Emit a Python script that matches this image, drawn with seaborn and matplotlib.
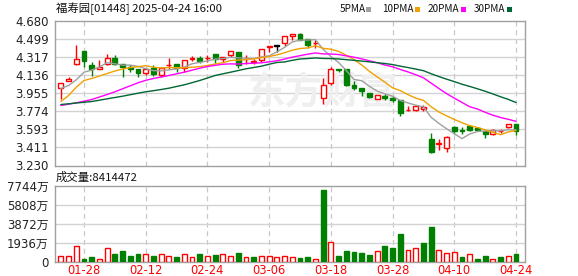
import numpy as np
import pandas as pd
import matplotlib
matplotlib.use("Agg")
import matplotlib.pyplot as plt
import seaborn as sns
from matplotlib.patches import Rectangle

# ---------------- data ----------------
dates = ["01-23", "01-24", "01-27", "01-28", "02-03", "02-04", "02-05", "02-06", "02-07", "02-10",
         "02-11", "02-12", "02-13", "02-14", "02-17", "02-18", "02-19", "02-20", "02-21", "02-24",
         "02-25", "02-26", "02-27", "02-28", "03-03", "03-04", "03-05", "03-06", "03-07", "03-10",
         "03-11", "03-12", "03-13", "03-14", "03-17", "03-18", "03-19", "03-20", "03-21", "03-24",
         "03-25", "03-26", "03-27", "03-28", "03-31", "04-01", "04-02", "04-03", "04-07", "04-08",
         "04-09", "04-10", "04-11", "04-14", "04-15", "04-16", "04-17", "04-22", "04-23", "04-24"]

opens = [4.003, 4.070, 4.250, 4.370, 4.237, 4.197, 4.243, 4.307, 4.247, 4.217,
         4.190, 4.157, 4.203, 4.137, 4.233, 4.247, 4.203, 4.300, 4.303, 4.303,
         4.347, 4.297, 4.337, 4.370, 4.293, 4.263, 4.280, 4.413, 4.430, 4.453,
         4.523, 4.547, 4.497, 4.450, 3.903, 4.057, 4.190, 4.190, 4.040, 4.003,
         3.957, 3.897, 3.923, 3.903, 3.890, 3.787, 3.790, 3.797, 3.497, 3.450,
         3.405, 3.613, 3.583, 3.620, 3.607, 3.577, 3.550, 3.577, 3.617, 3.643]
highs = [4.060, 4.120, 4.433, 4.370, 4.267, 4.290, 4.350, 4.340, 4.250, 4.230,
         4.195, 4.210, 4.230, 4.213, 4.310, 4.250, 4.290, 4.330, 4.320, 4.333,
         4.350, 4.317, 4.370, 4.370, 4.337, 4.297, 4.397, 4.430, 4.430, 4.523,
         4.547, 4.557, 4.497, 4.480, 4.103, 4.213, 4.200, 4.190, 4.070, 4.003,
         3.960, 3.940, 3.947, 3.923, 3.890, 3.830, 3.840, 3.837, 3.560, 3.500,
         3.530, 3.630, 3.613, 3.640, 3.615, 3.580, 3.600, 3.600, 3.650, 3.643]
lows = [3.900, 4.070, 4.237, 4.213, 4.127, 4.197, 4.237, 4.230, 4.113, 4.163,
        4.113, 4.140, 4.130, 4.113, 4.197, 4.170, 4.170, 4.277, 4.257, 4.270,
        4.257, 4.263, 4.313, 4.203, 4.247, 4.247, 4.263, 4.363, 4.370, 4.430,
        4.480, 4.487, 4.403, 4.410, 3.847, 4.037, 4.167, 4.030, 3.990, 3.930,
        3.903, 3.897, 3.890, 3.863, 3.730, 3.777, 3.777, 3.777, 3.353, 3.390,
        3.370, 3.547, 3.547, 3.580, 3.577, 3.505, 3.537, 3.560, 3.610, 3.540]
closes = [4.057, 4.097, 4.297, 4.277, 4.190, 4.217, 4.307, 4.243, 4.213, 4.190,
          4.153, 4.193, 4.143, 4.203, 4.237, 4.203, 4.290, 4.303, 4.273, 4.307,
          4.297, 4.317, 4.370, 4.237, 4.297, 4.277, 4.397, 4.430, 4.430, 4.523,
          4.547, 4.487, 4.437, 4.453, 4.037, 4.190, 4.183, 4.040, 4.003, 3.973,
          3.913, 3.940, 3.903, 3.887, 3.757, 3.790, 3.830, 3.820, 3.363, 3.455,
          3.520, 3.580, 3.577, 3.590, 3.583, 3.545, 3.588, 3.580, 3.643, 3.580]
# volume in 万 shares
volumes = [650, 580, 1600, 270, 460, 270, 1380, 800, 1150, 580,
           800, 770, 580, 770, 580, 460, 770, 460, 800, 580,
           690, 770, 580, 920, 460, 460, 650, 580, 460, 650,
           460, 390, 460, 270, 7330, 2030, 580, 1150, 1030, 920,
           690, 1110, 1600, 1380, 2860, 1230, 1450, 1950, 3550, 1230,
           890, 1000, 460, 770, 350, 580, 350, 460, 650, 841]

# moving-average values before enough in-window history exists
ma5_head = [4.000, 4.030, 4.087, 4.163]
ma10_head = [3.870, 3.930, 4.013, 4.080, 4.100, 4.125, 4.150, 4.175, 4.195]
ma20_head = [3.830, 3.843, 3.857, 3.873, 3.890, 3.915, 3.940, 3.967, 3.997, 4.027,
             4.057, 4.082, 4.100, 4.115, 4.130, 4.147, 4.163, 4.183, 4.203]
ma30_head = [3.840, 3.847, 3.855, 3.862, 3.870, 3.883, 3.897, 3.910, 3.923, 3.938,
             3.953, 3.967, 3.978, 3.990, 4.003, 4.020, 4.037, 4.058, 4.080, 4.105,
             4.130, 4.147, 4.163, 4.180, 4.197, 4.210, 4.223, 4.243, 4.260]

price_ticks = [4.680, 4.499, 4.317, 4.136, 3.955, 3.774, 3.593, 3.411, 3.230]
vol_ticks = [0, 1936, 3872, 5808, 7744]
date_ticks = ["01-28", "02-12", "02-24", "03-06", "03-18", "03-28", "04-10", "04-24"]
title_text = "福寿园[01448] 2025-04-24 16:00"
vol_title = "成交量:8414472"
ma_names = ["5PMA", "10PMA", "20PMA", "30PMA"]

# ---------------- styling ----------------
RED = "#ff0000"
GREEN = "#008000"
MA_COLORS = ["#a0a0a0", "#f0a000", "#ff00ff", "#006633"]
GRID = "#d3d3d3"
BORDER = "#a0a0a0"

sns.set_style("white")
plt.rcParams["font.family"] = ["DejaVu Sans", "Noto Sans CJK SC"]

W, H = 578, 276
fig = plt.figure(figsize=(W / 100, H / 100), dpi=100)


def fx(px):
    return px / W


def fy(py):
    return 1 - py / H


ax1 = fig.add_axes([fx(55), fy(165.5), fx(470), 145 / H])
ax2 = fig.add_axes([fx(55), fy(262), fx(470), 76 / H])

n = len(closes)
x = np.arange(n)
o = np.array(opens)
h = np.array(highs)
l = np.array(lows)
c = np.array(closes)

# moving averages
s = pd.Series(closes)
mas = []
for win, head in zip([5, 10, 20, 30], [ma5_head, ma10_head, ma20_head, ma30_head]):
    m = s.rolling(win).mean().to_numpy()
    m[: len(head)] = head
    mas.append(m)

tick_pos = [dates.index(d) for d in date_ticks]
xlim = (-0.76, 60.17)

# ---------------- price panel ----------------
for ax in (ax1, ax2):
    ax.set_xlim(*xlim)
    for p in tick_pos:
        ax.axvline(p, color="#c8c8c8", lw=0.9, ls=(0, (4, 3)), zorder=0)
    for sp in ax.spines.values():
        sp.set_color(BORDER)
        sp.set_linewidth(1.0)

ax1.set_ylim(price_ticks[-1], price_ticks[0])
for v in price_ticks[1:-1]:
    ax1.axhline(v, color=GRID, lw=1.0, zorder=0)

ax1.text(0.57, 0.5, "东方财富", transform=ax1.transAxes, ha="center", va="center",
         fontsize=27, fontweight="bold", color="#efefef", zorder=0,
         family=["Noto Sans CJK SC"])

up = c > o
down = c < o
cols = np.where(up, RED, np.where(down, GREEN, "black"))
faces = np.where(up, "white", cols)
ax1.vlines(x, l, h, colors=cols, lw=1.0, zorder=2)
body_bottom = np.minimum(o, c)
body_h = np.maximum(np.abs(c - o), 0.002)
ax1.bar(x, body_h, bottom=body_bottom, width=0.62, color=faces, edgecolor=cols,
        linewidth=1.0, zorder=3)

for m, col in zip(mas, MA_COLORS):
    sns.lineplot(x=x, y=m, ax=ax1, color=col, lw=1.0, zorder=4, legend=False)

ax1.set_yticks(price_ticks)
ax1.set_yticklabels([f"{v:.3f}" for v in price_ticks])
ax1.set_xticks(tick_pos)
ax1.tick_params(axis="x", length=0, labelbottom=False)
ax1.tick_params(axis="y", length=3, width=0.8, color=BORDER, labelsize=8.5,
                labelcolor="#222222", pad=1.5)
ax1.set_xlabel("")
ax1.set_ylabel("")

# ---------------- volume panel ----------------
prev = np.r_[o[0], c[:-1]]
vup = c >= prev
vcols = np.where(vup, RED, GREEN)
vfaces = np.where(vup, "white", GREEN)
ax2.set_ylim(0, vol_ticks[-1])
for v in vol_ticks[1:-1]:
    ax2.axhline(v, color=GRID, lw=1.0, zorder=0)
ax2.bar(x, volumes, width=0.62, color=vfaces, edgecolor=vcols, linewidth=1.0, zorder=3)
ax2.set_yticks(vol_ticks)
ax2.set_yticklabels([f"{v}万" if v else "0" for v in vol_ticks])
ax2.set_xticks(tick_pos)
ax2.set_xticklabels(date_ticks)
ax2.tick_params(axis="x", length=0, labelsize=8.3, labelcolor=RED, pad=1.5)
ax2.tick_params(axis="y", length=3, width=0.8, color=BORDER, labelsize=8.5,
                labelcolor="#222222", pad=1.5)

# ---------------- header texts ----------------
cjk = ["Noto Sans CJK SC", "DejaVu Sans"]
fig.text(fx(56), fy(9), title_text, ha="left", va="center", fontsize=8.2,
         color="#111111", family=cjk)
fig.text(fx(56), fy(177), vol_title, ha="left", va="center", fontsize=8.2,
         color="#111111", family=cjk)

leg_x = [340, 382, 428, 474]
sq_x = [366, 415, 461, 507]
for name, lx, sx, col in zip(ma_names, leg_x, sq_x, MA_COLORS):
    fig.text(fx(lx), fy(9), name, ha="left", va="center", fontsize=7.2,
             color="#111111", family=cjk)
    fig.add_artist(Rectangle((fx(sx), fy(11.5)), 5 / W, 5 / H, transform=fig.transFigure,
                             facecolor=col, edgecolor="none"))

fig.savefig("out.png", dpi=100)
